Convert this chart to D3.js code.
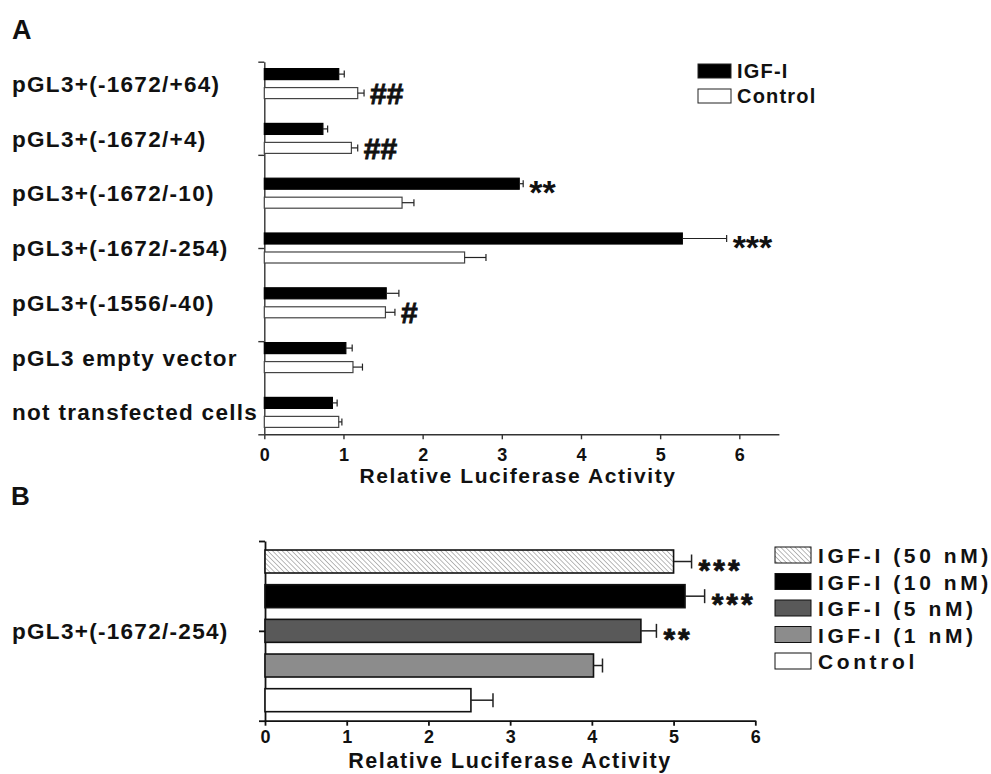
<!DOCTYPE html>
<html>
<head>
<meta charset="utf-8">
<script src="https://cdn.jsdelivr.net/npm/d3@7"></script>
<style>
  body { margin: 0; background: #fff; }
  text { font-family: "Liberation Sans", Arial, sans-serif; font-weight: bold; fill: #111; }
</style>
</head>
<body>
<svg id="chart" width="991" height="774"></svg>
<script>
// Panel A data
var categoriesA = ["pGL3+(-1672/+64)", "pGL3+(-1672/+4)", "pGL3+(-1672/-10)", "pGL3+(-1672/-254)",
                   "pGL3+(-1556/-40)", "pGL3 empty vector", "not transfected cells"];
var igfA     = [0.94, 0.74, 3.22, 5.28, 1.54, 1.03, 0.86];
var igfErrA  = [0.07, 0.06, 0.05, 0.56, 0.16, 0.08, 0.06];
var ctrlA    = [1.18, 1.10, 1.74, 2.53, 1.53, 1.12, 0.94];
var ctrlErrA = [0.08, 0.08, 0.15, 0.27, 0.12, 0.12, 0.04];
var igfSigA  = ["", "", "**", "***", "", "", ""];
var ctrlSigA = ["##", "##", "", "", "#", "", ""];
var seriesA  = ["IGF-I", "Control"];
var ticksA   = [0, 1, 2, 3, 4, 5, 6];

// Panel B data
var categoryB = "pGL3+(-1672/-254)";
var doseLabels = ["IGF-I (50 nM)", "IGF-I (10 nM)", "IGF-I (5 nM)", "IGF-I (1 nM)", "Control"];
var doseVals   = [5.00, 5.14, 4.60, 4.02, 2.52];
var doseErr    = [0.22, 0.24, 0.19, 0.11, 0.27];
var doseSig    = ["***", "***", "**", "", ""];
var ticksB     = [0, 1, 2, 3, 4, 5, 6];

var axisTitle = "Relative Luciferase Activity";

var svg = d3.select("#chart");
svg.append("rect").attr("width", 991).attr("height", 774).attr("fill", "#fff");

// hatch for 50 nM
var pat = svg.append("defs").append("pattern")
    .attr("id", "hatch")
    .attr("patternUnits", "userSpaceOnUse")
    .attr("width", 3.4).attr("height", 3.4)
    .attr("patternTransform", "rotate(-45)");
pat.append("rect").attr("width", 3.4).attr("height", 3.4).attr("fill", "#fff");
pat.append("line").attr("x1", 0).attr("y1", 0).attr("x2", 0).attr("y2", 3.4)
    .attr("stroke", "#666").attr("stroke-width", 0.9);

function sigBaseline(s, fs) {
  // asterisks sit high in the glyph box, hashes sit on the baseline
  return s.indexOf("*") >= 0 ? 0.6 * fs : 0.36 * fs;
}

function styleAxis(g, col, w) {
  g.select(".domain").attr("stroke", col).attr("stroke-width", w);
  g.selectAll(".tick line").attr("stroke", col).attr("stroke-width", w);
}

// ---------------- Panel A ----------------
var xA = d3.scaleLinear().domain([0, 6.5]).range([264.3, 778.9]);
var yA = d3.scaleBand().domain(categoriesA).range([61.7, 434.3])
    .paddingInner(0.4526).paddingOuter(0.126);
var subA = d3.scaleBand().domain(seriesA).range([0, yA.bandwidth()]).paddingInner(0.42);
var yTickA = d3.scaleLinear().domain([0, 4]).range([61.7, 434.3]);

var gA = svg.append("g");

var axA = gA.append("g")
    .attr("transform", "translate(0," + yTickA.range()[1] + ")")
    .call(d3.axisBottom(xA).tickValues(ticksA).tickFormat(d3.format("d"))
      .tickSize(5).tickSizeOuter(0).tickPadding(8.5));
styleAxis(axA, "#333", 1.4);
axA.selectAll(".tick text").style("font-size", "18px").attr("fill", "#111");

var ayA = gA.append("g")
    .attr("transform", "translate(" + xA(0) + ",0)")
    .call(d3.axisLeft(yTickA).tickValues([0, 1, 2, 3, 4]).tickFormat("").tickSize(6).tickSizeOuter(0));
styleAxis(ayA, "#333", 1.4);

var rowsA = categoriesA.map(function(c, i) {
  return {cat: c, bars: [
    {key: "IGF-I", v: igfA[i], e: igfErrA[i], sig: igfSigA[i]},
    {key: "Control", v: ctrlA[i], e: ctrlErrA[i], sig: ctrlSigA[i]}
  ]};
});

var grpA = gA.selectAll(".grp").data(rowsA).join("g")
    .attr("class", "grp")
    .attr("transform", function(d) { return "translate(0," + yA(d.cat) + ")"; });

var barA = grpA.selectAll(".bar").data(function(d) { return d.bars; }).join("g").attr("class", "bar");
barA.append("rect")
    .attr("x", xA(0))
    .attr("y", function(d) { return subA(d.key); })
    .attr("width", function(d) { return xA(d.v) - xA(0); })
    .attr("height", subA.bandwidth())
    .attr("fill", function(d) { return d.key == "IGF-I" ? "#000" : "#fff"; })
    .attr("stroke", function(d) { return d.key == "IGF-I" ? "#000" : "#444"; })
    .attr("stroke-width", 1.2);
barA.append("line")
    .attr("x1", function(d) { return xA(d.v); })
    .attr("x2", function(d) { return xA(d.v + d.e); })
    .attr("y1", function(d) { return subA(d.key) + subA.bandwidth() / 2; })
    .attr("y2", function(d) { return subA(d.key) + subA.bandwidth() / 2; })
    .attr("stroke", "#222").attr("stroke-width", 1.2);
barA.append("line")
    .attr("x1", function(d) { return xA(d.v + d.e); })
    .attr("x2", function(d) { return xA(d.v + d.e); })
    .attr("y1", function(d) { return subA(d.key) + subA.bandwidth() / 2 - 3.5; })
    .attr("y2", function(d) { return subA(d.key) + subA.bandwidth() / 2 + 3.5; })
    .attr("stroke", "#222").attr("stroke-width", 1.2);
barA.filter(function(d) { return d.sig != ""; }).append("text")
    .attr("x", function(d) { return xA(d.v + d.e) + 6; })
    .attr("y", function(d) {
      var fs = d.sig.indexOf("*") >= 0 ? 34 : 30;
      return subA(d.key) + subA.bandwidth() / 2 + sigBaseline(d.sig, fs);
    })
    .style("font-size", function(d) { return d.sig.indexOf("*") >= 0 ? "34px" : "30px"; })
    .style("stroke", "#111").style("stroke-width", function(d) { return d.sig.indexOf("#") >= 0 ? 0.8 : 0; })
    .text(function(d) { return d.sig; });

// category labels
gA.selectAll(".catA").data(categoriesA).join("text")
    .attr("class", "catA")
    .attr("x", 12)
    .attr("y", function(d) { return yA(d) + yA.bandwidth() / 2; })
    .attr("dy", "0.36em")
    .style("font-size", "22.5px").style("letter-spacing", "1.3px")
    .text(function(d) { return d; });

gA.append("text").attr("x", 518).attr("y", 483).attr("text-anchor", "middle")
    .style("font-size", "21px").style("letter-spacing", "1.6px").text(axisTitle);

// legend A
var legA = gA.selectAll(".legA").data(seriesA).join("g")
    .attr("class", "legA")
    .attr("transform", function(d, i) { return "translate(698," + (64 + i * 25) + ")"; });
legA.append("rect").attr("width", 33).attr("height", 14)
    .attr("fill", function(d, i) { return i == 0 ? "#000" : "#fff"; })
    .attr("stroke", "#222").attr("stroke-width", 1);
legA.append("text").attr("x", 39).attr("y", 14)
    .style("font-size", "20px").style("letter-spacing", "1.2px")
    .text(function(d) { return d; });

svg.append("text").attr("x", 12).attr("y", 39).style("font-size", "27px").text("A");

// ---------------- Panel B ----------------
var xB = d3.scaleLinear().domain([0, 6]).range([265, 755.3]);
var yB = d3.scaleBand().domain(doseLabels).range([541, 720.7]).paddingInner(0.337).paddingOuter(0.26);
var yTickB = d3.scaleLinear().domain([0, 2]).range([541, 720.7]);
var fillsB = ["url(#hatch)", "#000", "#595959", "#8c8c8c", "#fff"];

var gB = svg.append("g");

var axB = gB.append("g")
    .attr("transform", "translate(0," + yTickB.range()[1] + ")")
    .call(d3.axisBottom(xB).tickValues(ticksB).tickFormat(d3.format("d"))
      .tickSize(5).tickSizeOuter(0).tickPadding(5));
styleAxis(axB, "#111", 1.8);
axB.selectAll(".tick text").style("font-size", "18px").attr("fill", "#111");

var ayB = gB.append("g")
    .attr("transform", "translate(" + xB(0) + ",0)")
    .call(d3.axisLeft(yTickB).tickValues([0, 1, 2]).tickFormat("").tickSize(6).tickSizeOuter(0));
styleAxis(ayB, "#111", 1.8);

var rowsB = doseLabels.map(function(l, i) {
  return {lab: l, v: doseVals[i], e: doseErr[i], sig: doseSig[i], fill: fillsB[i]};
});

var barB = gB.selectAll(".barB").data(rowsB).join("g").attr("class", "barB");
barB.append("rect")
    .attr("x", xB(0))
    .attr("y", function(d) { return yB(d.lab); })
    .attr("width", function(d) { return xB(d.v) - xB(0); })
    .attr("height", yB.bandwidth())
    .attr("fill", function(d) { return d.fill; })
    .attr("stroke", "#111").attr("stroke-width", 1.6);
barB.append("line")
    .attr("x1", function(d) { return xB(d.v); })
    .attr("x2", function(d) { return xB(d.v + d.e); })
    .attr("y1", function(d) { return yB(d.lab) + yB.bandwidth() / 2; })
    .attr("y2", function(d) { return yB(d.lab) + yB.bandwidth() / 2; })
    .attr("stroke", "#222").attr("stroke-width", 1.5);
barB.append("line")
    .attr("x1", function(d) { return xB(d.v + d.e); })
    .attr("x2", function(d) { return xB(d.v + d.e); })
    .attr("y1", function(d) { return yB(d.lab) + yB.bandwidth() / 2 - 7; })
    .attr("y2", function(d) { return yB(d.lab) + yB.bandwidth() / 2 + 7; })
    .attr("stroke", "#222").attr("stroke-width", 1.5);
barB.filter(function(d) { return d.sig != ""; }).append("text")
    .attr("x", function(d) { return xB(d.v + d.e) + 7; })
    .attr("y", function(d) { return yB(d.lab) + yB.bandwidth() / 2 + sigBaseline(d.sig, 30); })
    .style("font-size", "30px").style("letter-spacing", "3px")
    .style("stroke", "#111").style("stroke-width", 0.8)
    .text(function(d) { return d.sig; });

gB.append("text").attr("x", 12)
    .attr("y", (yTickB.range()[0] + yTickB.range()[1]) / 2)
    .attr("dy", "0.36em")
    .style("font-size", "22.5px").style("letter-spacing", "1.3px")
    .text(categoryB);

gB.append("text").attr("x", 510).attr("y", 768).attr("text-anchor", "middle")
    .style("font-size", "21.5px").style("letter-spacing", "1.6px").text(axisTitle);

// legend B
var legB = gB.selectAll(".legB").data(rowsB).join("g")
    .attr("class", "legB")
    .attr("transform", function(d, i) { return "translate(775," + (547 + i * 26.5) + ")"; });
legB.append("rect").attr("width", 36).attr("height", 16)
    .attr("fill", function(d) { return d.fill; })
    .attr("stroke", "#111").attr("stroke-width", 1);
legB.append("text").attr("x", 43).attr("y", 16)
    .style("font-size", "21px").style("letter-spacing", "3.6px")
    .text(function(d) { return d.lab; });

svg.append("text").attr("x", 11).attr("y", 505).style("font-size", "26px").text("B");
</script>
</body>
</html>
